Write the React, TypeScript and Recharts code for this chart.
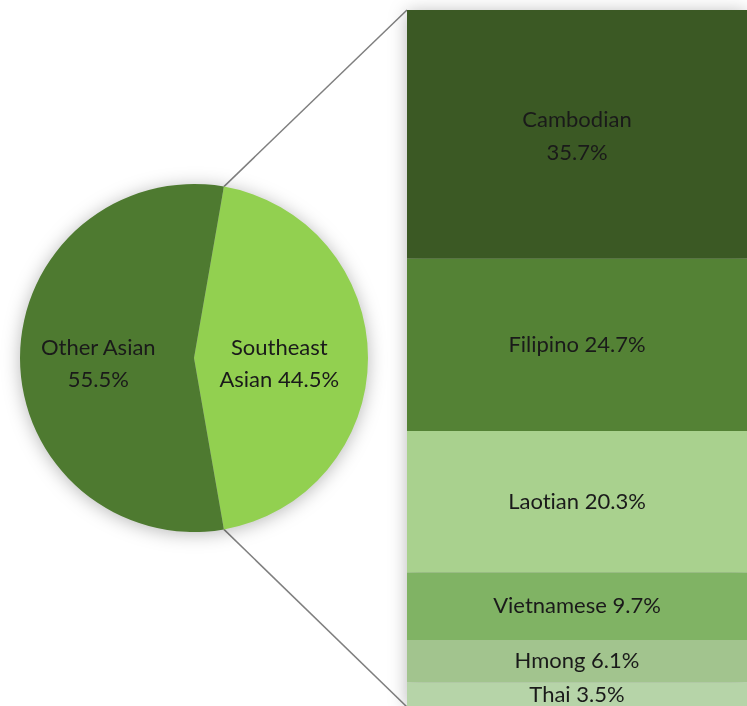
import React from 'react';
import { PieChart, Pie, Cell, BarChart, Bar, XAxis, YAxis, LabelList } from 'recharts';

const pieNames = ['Southeast Asian', 'Other Asian'];
const pieValues = [44.5, 55.5];
const pieColors = ['#92D050', '#4E7A30'];
const pieLabelLines = [['Southeast', 'Asian 44.5%'], ['Other Asian', '55.5%']];

const subNames = ['Cambodian', 'Filipino', 'Laotian', 'Vietnamese', 'Hmong', 'Thai'];
const subValues = [35.7, 24.7, 20.3, 9.7, 6.1, 3.5];
const subColors = ['#3B5924', '#548235', '#A9D18E', '#80B364', '#A2C48E', '#B6D4A8'];
const wrappedLabels = ['Cambodian'];

const FONT = 'Lato, "Open Sans", sans-serif';
const TEXT = '#1a1a1a';
const FS = 22;
const TEXT_STYLE = { fontVariantLigatures: 'none' as const };

const PIE_CX = 194;
const PIE_CY = 358;
const PIE_R = 174;
const BAR_LEFT = 407;
const BAR_TOP = 10;
const BAR_W = 340;
const BAR_H = 697;

const pieData = pieNames.map((name, i) => ({ name, value: pieValues[i] }));
const barRow: Record<string, number | string> = { name: 'Southeast Asian' };
subNames.forEach((n, i) => { barRow[n] = subValues[i]; });
const barData = [barRow];

const halfSpan = (360 * pieValues[0]) / 100 / 2;
const START = halfSpan;
const END = halfSpan - 360;

const RAD = Math.PI / 180;

const PieLabel = (props: any) => {
  const { cx, cy, midAngle, outerRadius, index } = props;
  const f = index === 0 ? 0.49 : 0.55;
  const x = cx + outerRadius * f * Math.cos(-midAngle * RAD);
  const y = cy + outerRadius * f * Math.sin(-midAngle * RAD);
  const lines = pieLabelLines[index];
  return (
    <text x={x} y={y} textAnchor="middle" fill={TEXT} fontSize={FS} fontFamily={FONT} style={TEXT_STYLE}>
      <tspan x={x} dy={-3}>{lines[0]}</tspan>
      <tspan x={x} dy={32}>{lines[1]}</tspan>
    </text>
  );
};

const makeBarLabel = (name: string) => (props: any) => {
  const { x, y, width, height, value } = props;
  const cx = Number(x) + Number(width) / 2;
  const cy = Number(y) + Number(height) / 2;
  const txt = `${Number(value).toFixed(1)}%`;
  if (wrappedLabels.includes(name)) {
    return (
      <text x={cx} y={cy} textAnchor="middle" fill={TEXT} fontSize={FS} fontFamily={FONT} style={TEXT_STYLE}>
        <tspan x={cx} dy={-7}>{name}</tspan>
        <tspan x={cx} dy={33}>{txt}</tspan>
      </text>
    );
  }
  return (
    <text x={cx} y={cy} dy={7} textAnchor="middle" fill={TEXT} fontSize={FS} fontFamily={FONT} style={TEXT_STYLE}>
      {`${name} ${txt}`}
    </text>
  );
};

export default function App() {
  const topX = PIE_CX + PIE_R * Math.cos(START * RAD);
  const topY = PIE_CY - PIE_R * Math.sin(START * RAD);
  const botY = PIE_CY + PIE_R * Math.sin(START * RAD);
  const shadow = 'drop-shadow(0px 2px 9px rgba(0,0,0,0.28))';
  return (
    <div style={{ position: 'absolute', left: 0, top: 0, width: 747, height: 706, overflow: 'hidden', background: '#fff' }}>
      <svg width={747} height={706} style={{ position: 'absolute', left: 0, top: 0 }}>
        <line x1={topX} y1={topY} x2={BAR_LEFT} y2={BAR_TOP} stroke="#7f7f7f" strokeWidth={1.5} />
        <line x1={topX} y1={botY} x2={BAR_LEFT} y2={BAR_TOP + BAR_H} stroke="#7f7f7f" strokeWidth={1.5} />
      </svg>
      <div style={{ position: 'absolute', left: 0, top: 0, filter: shadow }}>
        <PieChart width={400} height={706} margin={{ top: 0, right: 0, bottom: 0, left: 0 }}>
          <Pie
            data={pieData}
            dataKey="value"
            nameKey="name"
            cx={PIE_CX}
            cy={PIE_CY}
            outerRadius={PIE_R}
            startAngle={START}
            endAngle={END}
            stroke="none"
            isAnimationActive={false}
            labelLine={false}
            label={PieLabel}
          >
            {pieData.map((d, i) => (
              <Cell key={d.name} fill={pieColors[i]} />
            ))}
          </Pie>
        </PieChart>
      </div>
      <div style={{ position: 'absolute', left: BAR_LEFT, top: BAR_TOP, filter: shadow }}>
        <BarChart width={BAR_W} height={BAR_H} data={barData} margin={{ top: 0, right: 0, bottom: 0, left: 0 }} barCategoryGap={0}>
          <XAxis dataKey="name" type="category" hide />
          <YAxis type="number" domain={[0, 100]} reversed hide allowDataOverflow />
          {subNames.map((n, i) => (
            <Bar key={n} dataKey={n} stackId="s" fill={subColors[i]} isAnimationActive={false}>
              <LabelList dataKey={n} content={makeBarLabel(n)} />
            </Bar>
          ))}
        </BarChart>
      </div>
    </div>
  );
}
